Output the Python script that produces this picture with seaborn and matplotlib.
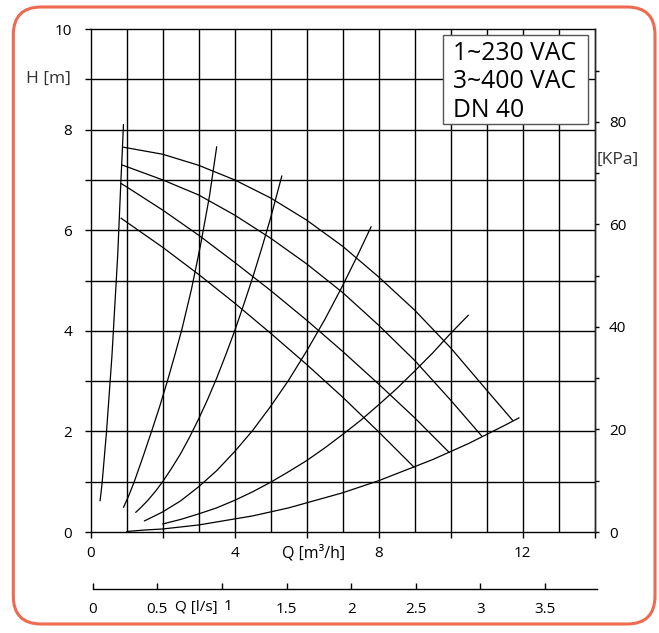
import numpy as np
import pandas as pd
import matplotlib
matplotlib.use("Agg")
import matplotlib.pyplot as plt
import seaborn as sns
from matplotlib.patches import FancyBboxPatch, Rectangle
from matplotlib.transforms import IdentityTransform

# ---- data ----
# pump Q-H curves (Q in m3/h, H in m)
pump1_q = [0.91, 2, 3, 4, 5, 6, 7, 8, 9, 10, 11, 11.72]
pump1_h = [7.65, 7.51, 7.29, 7.00, 6.64, 6.20, 5.68, 5.07, 4.41, 3.66, 2.82, 2.22]
pump2_q = [0.86, 2, 3, 4, 5, 6, 7, 8, 9, 10, 10.86]
pump2_h = [7.30, 7.00, 6.70, 6.30, 5.84, 5.33, 4.76, 4.11, 3.41, 2.62, 1.91]
pump3_q = [0.84, 1, 2, 3, 4, 5, 6, 7, 8, 9, 9.96]
pump3_h = [6.93, 6.86, 6.40, 5.90, 5.36, 4.80, 4.21, 3.59, 2.94, 2.27, 1.58]
pump4_q = [0.84, 1, 2, 3, 4, 5, 6, 7, 8, 8.98]
pump4_h = [6.24, 6.16, 5.66, 5.12, 4.55, 3.95, 3.33, 2.68, 1.99, 1.29]

# system curves
sysA_q = [0.26, 0.29, 0.32, 0.38, 0.44, 0.49, 0.54, 0.59, 0.63, 0.67, 0.71, 0.75,
          0.78, 0.81, 0.84, 0.88, 0.91]
sysA_h = [0.62, 0.80, 1.0, 1.5, 2.0, 2.5, 3.0, 3.5, 4.0, 4.5, 5.0, 5.5,
          6.0, 6.5, 7.0, 7.6, 8.1]
sysB_q = [0.91, 1.05, 1.21, 1.45, 1.69, 1.91, 2.13, 2.33, 2.53, 2.80, 3.05, 3.30, 3.50]
sysB_h = [0.49, 0.71, 1.00, 1.49, 2.00, 2.48, 3.00, 3.50, 4.02, 4.83, 5.70, 6.68, 7.66]
sysC_q = [1.25, 1.4, 1.6, 1.8, 2.0, 2.25, 2.5, 2.75, 3.0, 3.25, 3.5, 3.75, 4.0,
          4.25, 4.5, 4.75, 5.0, 5.31]
sysC_h = [0.39, 0.49, 0.64, 0.81, 1.00, 1.27, 1.56, 1.89, 2.25, 2.64, 3.06, 3.52, 4.00,
          4.52, 5.06, 5.64, 6.25, 7.08]
sysD_q = [1.49, 1.75, 2.0, 2.5, 3.0, 3.5, 4.0, 4.5, 5.0, 5.5, 6.0, 6.5, 7.0, 7.4, 7.79]
sysD_h = [0.22, 0.31, 0.40, 0.62, 0.90, 1.22, 1.60, 2.02, 2.50, 3.02, 3.60, 4.22,
          4.90, 5.48, 6.07]
sysE_q = [2.0, 2.5, 3.0, 3.5, 4.0, 4.5, 5.0, 5.5, 6.0, 6.5, 7.0, 7.5, 8.0, 8.5,
          9.0, 9.5, 10.0, 10.49]
sysE_h = [0.16, 0.25, 0.36, 0.48, 0.63, 0.80, 0.99, 1.20, 1.42, 1.67, 1.94, 2.22,
          2.53, 2.85, 3.20, 3.56, 3.95, 4.31]
sysF_q = [1.0, 1.5, 2.0, 2.5, 3.0, 3.5, 4.0, 4.5, 5.0, 5.5, 6.0, 6.5, 7.0, 7.5,
          8.0, 8.5, 9.0, 9.5, 10.0, 10.5, 11.0, 11.5, 11.9]
sysF_h = [0.01, 0.04, 0.06, 0.10, 0.14, 0.20, 0.26, 0.32, 0.40, 0.48, 0.58, 0.68,
          0.78, 0.90, 1.02, 1.16, 1.30, 1.44, 1.60, 1.76, 1.94, 2.12, 2.27]

h_ticks = [0, 2, 4, 6, 8, 10]
q_ticks = [0, 4, 8, 12]
kpa_ticks = [0, 20, 40, 60, 80]
ls_ticks = [0, 0.5, 1, 1.5, 2, 2.5, 3, 3.5]
ls_labels = ["0", "0.5", "", "1.5", "2", "2.5", "3", "3.5"]
box_lines = ["1~230 VAC", "3~400 VAC", "DN 40"]

curves = {
    "p1": (pump1_q, pump1_h), "p2": (pump2_q, pump2_h),
    "p3": (pump3_q, pump3_h), "p4": (pump4_q, pump4_h),
    "sA": (sysA_q, sysA_h), "sB": (sysB_q, sysB_h), "sC": (sysC_q, sysC_h),
    "sD": (sysD_q, sysD_h), "sE": (sysE_q, sysE_h), "sF": (sysF_q, sysF_h),
}
df = pd.concat([pd.DataFrame({"q": q, "h": h, "curve": k}) for k, (q, h) in curves.items()],
               ignore_index=True)

# ---- style ----
sns.set_style("ticks")
plt.rcParams['font.family'] = ['Open Sans', 'DejaVu Sans']

W, H = 659, 633
fig = plt.figure(figsize=(W / 100, H / 100), dpi=100)

ax = fig.add_axes([90.7 / W, 1 - 532 / H, 504 / W, 503 / H])
ax.set_xlim(0, 14)
ax.set_ylim(0, 10)

grid_lw = 1.0
for q in range(1, 14):
    ax.axvline(q, color='black', lw=grid_lw, zorder=1)
for hh in range(1, 10):
    ax.axhline(hh, color='black', lw=grid_lw, zorder=1)

sns.lineplot(data=df, x="q", y="h", units="curve", estimator=None, sort=False,
             color='black', lw=0.9, ax=ax, zorder=3, legend=False)

for s in ax.spines.values():
    s.set_visible(True)
    s.set_color('black')
    s.set_linewidth(grid_lw)

ax.set_xticks(q_ticks)
ax.set_xticks([2, 6, 10, 14], minor=True)
ax.set_xticklabels([str(v) for v in q_ticks])
ax.set_yticks(h_ticks)
ax.set_yticks([1, 3, 5, 7, 9], minor=True)
ax.set_yticklabels([str(v) for v in h_ticks])
ax.tick_params(axis='x', which='both', direction='out', length=4.3, width=grid_lw,
               pad=6, labelsize=11, colors='black')
ax.tick_params(axis='y', which='both', direction='out', length=4.1, width=grid_lw,
               pad=9.3, labelsize=11, colors='black')
ax.set_xlabel("")
ax.set_ylabel("")

# right kPa axis
axr = ax.twinx()
axr.set_ylim(0, 10 * 9.81)
axr.set_yticks(kpa_ticks)
axr.set_yticks([10, 30, 50, 70, 90], minor=True)
axr.set_yticklabels([str(v) for v in kpa_ticks])
axr.tick_params(axis='y', which='both', direction='out', length=3.2, width=grid_lw,
                pad=7, labelsize=11, colors='black')
for s in axr.spines.values():
    s.set_visible(False)
axr.spines['right'].set_visible(True)
axr.spines['right'].set_linewidth(grid_lw)

# text box
ax.add_patch(Rectangle((0.699, 0.811), 0.288, 0.177, transform=ax.transAxes,
                       facecolor='white', edgecolor='#555555', lw=1.0, zorder=5))
for txt, base in zip(box_lines, [60, 88.3, 116.7]):
    fig.text(453 / W, 1 - base / H, txt, ha='left', va='baseline',
             fontsize=17.8, color='black', zorder=6)

# axis labels
fig.text(70.7 / W, 1 - 79 / H, "H [m]", ha='right', va='center', fontsize=12.5, color='#333333')
fig.text(597 / W, 1 - 160 / H, "[KPa]", ha='left', va='center', fontsize=12.5, color='#333333')
fig.text(313.5 / W, 1 - 553 / H, "Q [m³/h]", ha='center', va='center', fontsize=11.5, color='black')

# lower l/s axis
ax2 = fig.add_axes([92.7 / W, 1 - 589.3 / H, 504 / W, 0.0001])
ax2.set_xlim(0, 3.9)
ax2.set_ylim(0, 1)
ax2.set_yticks([])
for k in ['left', 'right', 'top']:
    ax2.spines[k].set_visible(False)
ax2.spines['bottom'].set_linewidth(grid_lw)
ax2.spines['bottom'].set_color('black')
ax2.set_xticks(ls_ticks)
ax2.set_xticklabels(ls_labels)
ax2.tick_params(axis='x', direction='in', length=4.3, width=grid_lw, pad=9,
                labelsize=11, colors='black')
ax2.patch.set_visible(False)
fig.text(196 / W, 1 - 607 / H, "Q [l/s]", ha='center', va='center', fontsize=11, color='black')
fig.text(228.5 / W, 1 - 607 / H, "1", ha='center', va='center', fontsize=11, color='black')

# orange rounded frame
frame = FancyBboxPatch((13.3, 9.0), 641.7, 617.0,
                       boxstyle='round,pad=0,rounding_size=28',
                       transform=IdentityTransform(), fill=False,
                       edgecolor='#EE6A50', lw=2.2)
fig.add_artist(frame)

fig.savefig("out.png", dpi=100)
